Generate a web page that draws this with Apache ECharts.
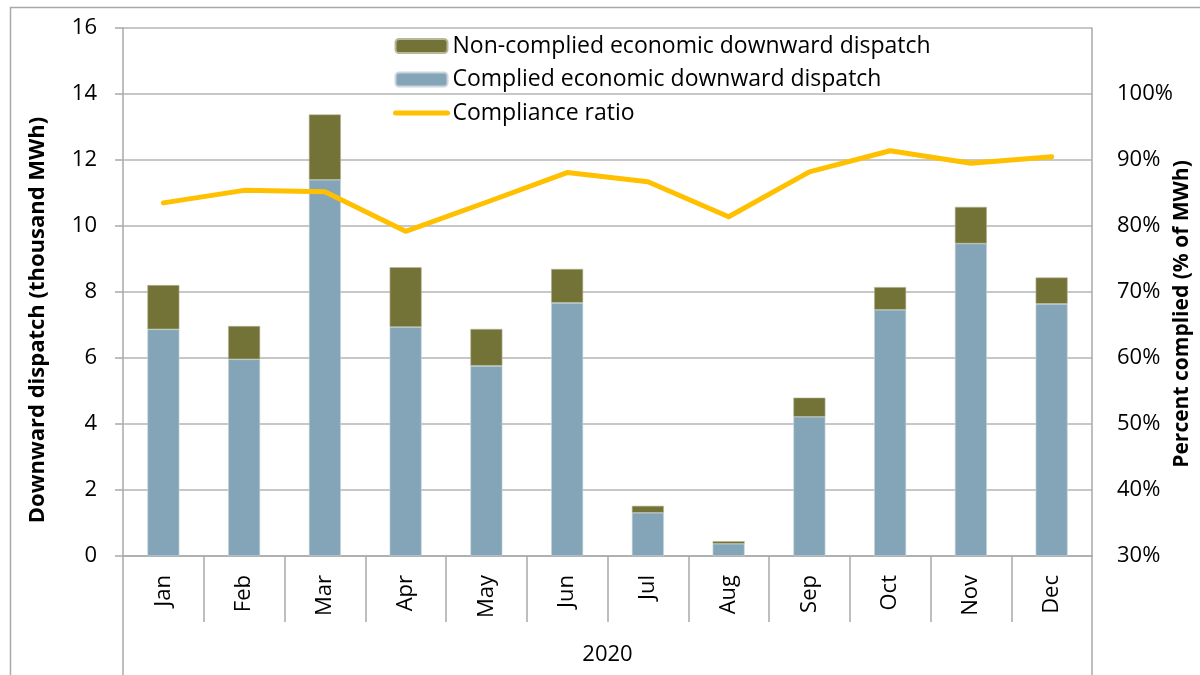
<!DOCTYPE html>
<html>
<head>
<meta charset="utf-8">
<script src="https://cdn.jsdelivr.net/npm/echarts@6/dist/echarts.min.js"></script>
<style>
  html, body { margin: 0; padding: 0; background: #fff; }
  #chart { width: 1200px; height: 675px; }
</style>
</head>
<body>
<div id="chart"></div>
<script>
// Monthly economic downward dispatch, 2020 (thousand MWh) and compliance ratio (%)
const months = ['Jan', 'Feb', 'Mar', 'Apr', 'May', 'Jun', 'Jul', 'Aug', 'Sep', 'Oct', 'Nov', 'Dec'];
const yearLabel = ['2020'];
const complied = [6.87, 5.96, 11.40, 6.94, 5.76, 7.67, 1.31, 0.37, 4.22, 7.46, 9.47, 7.64];
const nonComplied = [1.34, 1.01, 1.98, 1.81, 1.12, 1.03, 0.21, 0.08, 0.58, 0.69, 1.11, 0.80];
const complianceRatio = [83.5, 85.4, 85.2, 79.2, 83.6, 88.1, 86.7, 81.4, 88.2, 91.4, 89.5, 90.5];

const FONT = 'Open Sans';
const GRAY = '#a9a9a9';
const TEXT = '#000';
const LINE_COLOR = '#ffc000';

const chart = echarts.init(document.getElementById('chart'), null, { renderer: 'canvas' });

chart.setOption({
  animation: false,
  backgroundColor: '#fff',
  textStyle: { fontFamily: FONT, color: TEXT },
  graphic: [{
    type: 'rect',
    left: 8, top: 5,
    shape: { width: 1400, height: 900 },
    style: { fill: 'none', stroke: GRAY, lineWidth: 1.5 },
    silent: true
  }],
  grid: { left: 123, right: 108, top: 28, bottom: 119, outerBoundsMode: 'none', containLabel: false },
  legend: {
    orient: 'vertical',
    left: 388, top: 29,
    itemWidth: 52, itemHeight: 14, itemGap: 9.5,
    textStyle: { fontFamily: FONT, fontSize: 23, lineHeight: 24, color: TEXT },
    data: [
      { name: 'Non-complied economic downward dispatch' },
      { name: 'Complied economic downward dispatch' },
      { name: 'Compliance ratio', itemStyle: { opacity: 0 }, lineStyle: { width: 5, color: LINE_COLOR } }
    ]
  },
  xAxis: [{
    type: 'category',
    data: months,
    position: 'bottom',
    axisLine: { show: true, lineStyle: { color: GRAY, width: 1.5 } },
    axisTick: { show: true, interval: 0, length: 66, lineStyle: { color: GRAY, width: 1.5 } },
    axisLabel: { interval: 0, rotate: 90, margin: 19, fontFamily: FONT, fontSize: 22, color: TEXT }
  }, {
    type: 'category',
    data: yearLabel,
    position: 'bottom',
    axisLine: { show: false },
    axisTick: { show: true, interval: 0, length: 119, lineStyle: { color: GRAY, width: 1.5 } },
    axisLabel: { margin: 88, fontFamily: FONT, fontSize: 22, color: TEXT }
  }],
  yAxis: [{
    type: 'value',
    min: 0, max: 16, interval: 2,
    position: 'left',
    name: 'Downward dispatch (thousand MWh)',
    nameLocation: 'middle',
    nameRotate: 90,
    nameGap: 74,
    nameMoveOverlap: false,
    nameTextStyle: { fontFamily: FONT, fontSize: 22, fontWeight: 'bold', color: TEXT, padding: [0, 56, 0, 0] },
    axisLine: { show: true, lineStyle: { color: GRAY, width: 1.5 } },
    axisTick: { show: true, length: 8, lineStyle: { color: GRAY, width: 1.5 } },
    axisLabel: { margin: 26, fontFamily: FONT, fontSize: 22, color: TEXT },
    splitLine: { lineStyle: { color: '#b4b4b4', width: 1.5 } }
  }, {
    type: 'value',
    min: 30, max: 110, interval: 10,
    position: 'right',
    name: 'Percent complied (% of MWh)',
    nameLocation: 'middle',
    nameRotate: 90,
    nameGap: 80,
    nameMoveOverlap: false,
    nameTextStyle: { fontFamily: FONT, fontSize: 21, fontWeight: 'bold', color: TEXT, padding: [0, 44, 0, 0] },
    axisLine: { show: true, lineStyle: { color: GRAY, width: 1.5 } },
    axisTick: { show: false },
    axisLabel: {
      margin: 25, fontFamily: FONT, fontSize: 22, color: TEXT,
      formatter: v => (v > 100 ? '' : v + '%')
    },
    splitLine: { show: false }
  }],
  series: [{
    name: 'Complied economic downward dispatch',
    type: 'bar',
    stack: 'dispatch',
    barWidth: 32,
    itemStyle: { color: '#84a5b8', borderColor: '#c9d6de', borderWidth: 0.6 },
    data: complied
  }, {
    name: 'Non-complied economic downward dispatch',
    type: 'bar',
    stack: 'dispatch',
    barWidth: 32,
    itemStyle: { color: '#737337', borderColor: '#b7b79a', borderWidth: 0.6 },
    data: nonComplied
  }, {
    name: 'Compliance ratio',
    type: 'line',
    yAxisIndex: 1,
    symbol: 'none',
    z: 5,
    lineStyle: { color: LINE_COLOR, width: 5, cap: 'round', join: 'round' },
    itemStyle: { color: LINE_COLOR },
    data: complianceRatio
  }]
});
</script>
</body>
</html>
